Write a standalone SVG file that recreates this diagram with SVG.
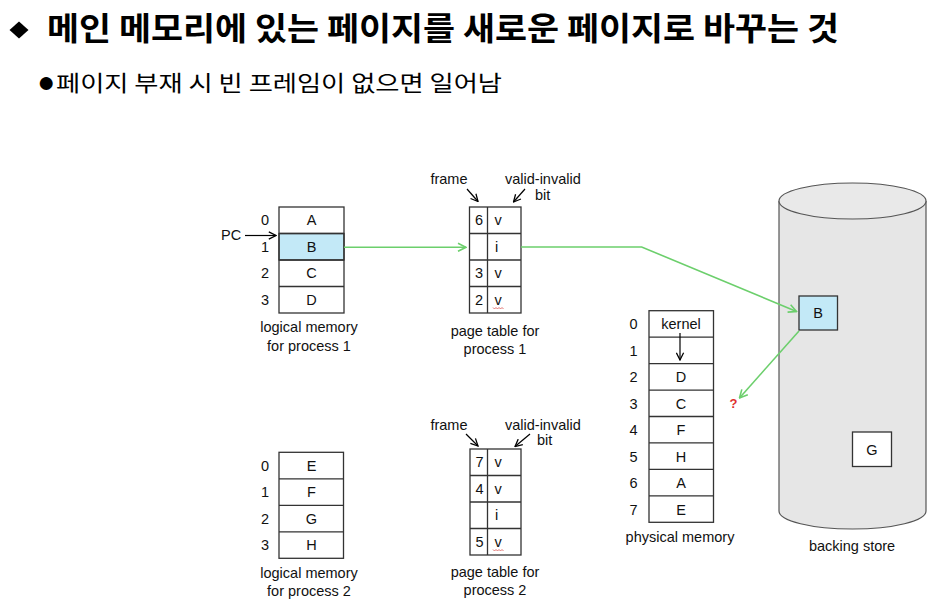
<svg xmlns="http://www.w3.org/2000/svg" width="935" height="599" viewBox="0 0 935 599">
<style>
.t{font-family:"Liberation Sans",Arial,sans-serif;font-size:14.5px;fill:#111;}
.c{text-anchor:middle;}
.ko{font-family:"Noto Sans CJK KR","Noto Sans",sans-serif;fill:#000;}
.box{fill:#fff;stroke:#333;stroke-width:1.3;}
.ln{stroke:#333;stroke-width:1.3;fill:none;}
.g{stroke:#6ccf6c;stroke-width:1.6;fill:none;}
.k{stroke:#000;stroke-width:1.2;fill:none;}
</style>
<defs>
<marker id="ag" viewBox="0 0 10 10" refX="9" refY="5" markerWidth="10" markerHeight="10" markerUnits="userSpaceOnUse" orient="auto"><path d="M1,1 L9,5 L1,9" fill="none" stroke="#6ccf6c" stroke-width="1.6"/></marker>
<marker id="ak" viewBox="0 0 10 10" refX="9" refY="5" markerWidth="9" markerHeight="9" markerUnits="userSpaceOnUse" orient="auto"><path d="M1,1 L9,5 L1,9" fill="none" stroke="#000" stroke-width="1.4"/></marker>
</defs>
<rect width="935" height="599" fill="#fff"/>

<g id="title">
<path d="M19,21.5 L28.5,30 L19,38.5 L9.5,30 Z" fill="#000"/>
<text class="ko" x="47" y="40" font-size="32" font-weight="bold" textLength="792" lengthAdjust="spacingAndGlyphs">메인 메모리에 있는 페이지를 새로운 페이지로 바꾸는 것</text>
<text x="37" y="91.5" font-family="'Liberation Sans',Arial,sans-serif" font-size="30" fill="#000">●</text>
<text class="ko" x="56" y="91" font-size="22" textLength="446" lengthAdjust="spacingAndGlyphs">페이지 부재 시 빈 프레임이 없으면 일어남</text>
</g>

<g id="logical1">
<rect class="box" x="279" y="233.5" width="65" height="26.5" style="fill:#c3e9f7"/>
<rect class="box" x="279" y="207" width="65" height="106" style="fill:none"/>
<path class="ln" d="M279,233.5H344M279,260H344M279,286.5H344"/>
<text class="t c" x="311.5" y="225">A</text>
<text class="t c" x="311.5" y="251.5">B</text>
<text class="t c" x="311.5" y="278">C</text>
<text class="t c" x="311.5" y="304.5">D</text>
<text class="t c" x="265" y="225">0</text>
<text class="t c" x="265" y="251.5">1</text>
<text class="t c" x="265" y="278">2</text>
<text class="t c" x="265" y="304.5">3</text>
<text class="t" x="221" y="240">PC</text>
<line class="k" x1="245" y1="235.5" x2="276" y2="235.5" marker-end="url(#ak)"/>
<text class="t c" x="309" y="332">logical memory</text>
<text class="t c" x="309" y="350.5">for process 1</text>
</g>

<g id="pagetable1">
<rect class="box" x="469.5" y="207" width="51.5" height="106"/>
<path class="ln" d="M487.5,207V313M469.5,233.5H521M469.5,260H521M469.5,286.5H521"/>
<text class="t c" x="479" y="225">6</text>
<text class="t c" x="498" y="225">v</text>
<text class="t c" x="496.5" y="251.5">i</text>
<text class="t c" x="479" y="278">3</text>
<text class="t c" x="498" y="278">v</text>
<text class="t c" x="479" y="304.5">2</text>
<text class="t c" x="498" y="304.5">v</text>
<path d="M493,307.5 l1.5,1.5 l1.5,-1.5 l1.5,1.5 l1.5,-1.5 l1.5,1.5 l1.5,-1.5 l1.5,1.5" stroke="#d9534f" stroke-width="0.8" fill="none"/>
<text class="t c" x="449" y="184">frame</text>
<text class="t" x="505" y="184">valid-invalid</text>
<text class="t" x="535" y="200">bit</text>
<line class="k" x1="467" y1="189" x2="478" y2="201.5" marker-end="url(#ak)"/>
<line class="k" x1="525" y1="189" x2="513.5" y2="202" marker-end="url(#ak)"/>
<text class="t c" x="495" y="336">page table for</text>
<text class="t c" x="495" y="354">process 1</text>
</g>

<g id="logical2">
<rect class="box" x="279" y="452.3" width="64.5" height="106"/>
<path class="ln" d="M279,478.8H343.5M279,505.3H343.5M279,531.8H343.5"/>
<text class="t c" x="311.5" y="470.5">E</text>
<text class="t c" x="311.5" y="497">F</text>
<text class="t c" x="311.5" y="523.5">G</text>
<text class="t c" x="311.5" y="550">H</text>
<text class="t c" x="265" y="470.5">0</text>
<text class="t c" x="265" y="497">1</text>
<text class="t c" x="265" y="523.5">2</text>
<text class="t c" x="265" y="550">3</text>
<text class="t c" x="309" y="578">logical memory</text>
<text class="t c" x="309" y="596">for process 2</text>
</g>

<g id="pagetable2">
<rect class="box" x="470" y="449" width="51" height="106"/>
<path class="ln" d="M487.5,449V555M470,475.5H521M470,502H521M470,528.5H521"/>
<text class="t c" x="479.5" y="467">7</text>
<text class="t c" x="498" y="467">v</text>
<text class="t c" x="479.5" y="493.5">4</text>
<text class="t c" x="498" y="493.5">v</text>
<text class="t c" x="496.5" y="520">i</text>
<text class="t c" x="479.5" y="546.5">5</text>
<text class="t c" x="498" y="546.5">v</text>
<path d="M493,549.5 l1.5,1.5 l1.5,-1.5 l1.5,1.5 l1.5,-1.5 l1.5,1.5 l1.5,-1.5 l1.5,1.5" stroke="#d9534f" stroke-width="0.8" fill="none"/>
<text class="t c" x="449" y="430">frame</text>
<text class="t" x="505" y="430">valid-invalid</text>
<text class="t" x="537" y="445">bit</text>
<line class="k" x1="466" y1="434" x2="478" y2="446" marker-end="url(#ak)"/>
<line class="k" x1="530" y1="434" x2="515" y2="446.5" marker-end="url(#ak)"/>
<text class="t c" x="495" y="577">page table for</text>
<text class="t c" x="495" y="595">process 2</text>
</g>

<g id="physical">
<rect class="box" x="649" y="310.7" width="64.5" height="211.6"/>
<path class="ln" d="M649,337.15H713.5M649,363.6H713.5M649,390.05H713.5M649,416.5H713.5M649,442.95H713.5M649,469.4H713.5M649,495.85H713.5"/>
<text class="t c" x="681" y="329">kernel</text>
<line class="k" x1="680" y1="333" x2="680" y2="360" marker-end="url(#ak)"/>
<text class="t c" x="681" y="382">D</text>
<text class="t c" x="681" y="408.5">C</text>
<text class="t c" x="681" y="435">F</text>
<text class="t c" x="681" y="461.5">H</text>
<text class="t c" x="681" y="488">A</text>
<text class="t c" x="681" y="514.5">E</text>
<text class="t c" x="633.5" y="329">0</text>
<text class="t c" x="633.5" y="355.5">1</text>
<text class="t c" x="633.5" y="382">2</text>
<text class="t c" x="633.5" y="408.5">3</text>
<text class="t c" x="633.5" y="435">4</text>
<text class="t c" x="633.5" y="461.5">5</text>
<text class="t c" x="633.5" y="488">6</text>
<text class="t c" x="633.5" y="514.5">7</text>
<text class="t c" x="680" y="541.5">physical memory</text>
<text x="733.5" y="408" text-anchor="middle" font-family="Liberation Sans,Arial,sans-serif" font-size="13" font-weight="bold" fill="#e03030">?</text>
</g>

<g id="backingstore">
<path d="M779,201 V511 A73.5,18 0 0 0 926,511 V201" fill="#e6e6e6" stroke="#555" stroke-width="1.2"/>
<ellipse cx="852.5" cy="201" rx="73.5" ry="18" fill="#e9e9e9" stroke="#555" stroke-width="1.2"/>
<rect x="799" y="296" width="38.5" height="34" fill="#c3e9f7" stroke="#333" stroke-width="1.3"/>
<text class="t c" x="818" y="318">B</text>
<rect x="852.5" y="432" width="39" height="34.5" fill="#fff" stroke="#333" stroke-width="1.3"/>
<text class="t c" x="872" y="454.5">G</text>
<text class="t c" x="852" y="551">backing store</text>
</g>

<g id="connectors">
<line class="g" x1="344" y1="247.3" x2="466" y2="247.3" marker-end="url(#ag)"/>
<polyline class="g" points="521,247 641.7,247 796.5,311.5" marker-end="url(#ag)"/>
<line class="g" x1="799" y1="331" x2="739.5" y2="398" marker-end="url(#ag)"/>
</g>
</svg>
